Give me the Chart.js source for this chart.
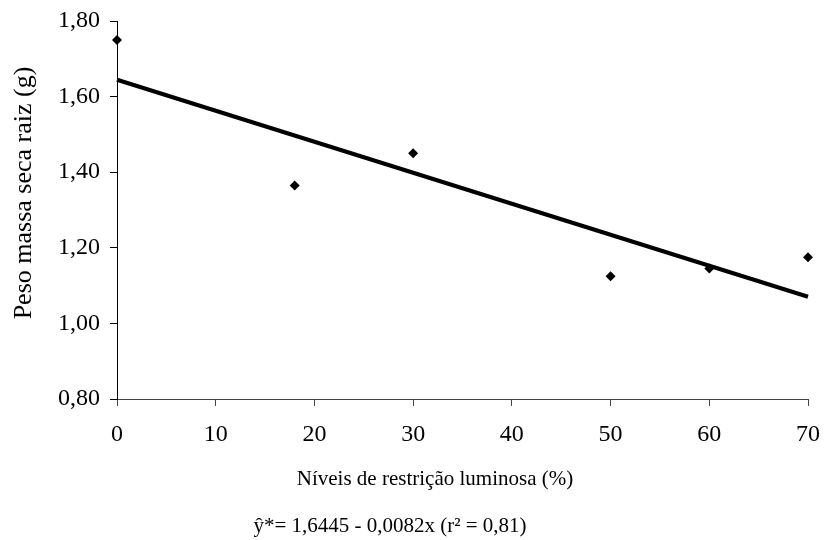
<!DOCTYPE html>
<html>
<head>
<meta charset="utf-8">
<script src="https://cdn.jsdelivr.net/npm/chart.js@4/dist/chart.umd.min.js"></script>
<style>
  html, body { margin: 0; padding: 0; background: #fff; }
  #wrap { width: 829px; height: 540px; }
</style>
</head>
<body>
<div id="wrap"><canvas id="c" width="829" height="540"></canvas></div>
<script>
// Light restriction levels (%) and measured dry root mass (g)
const restricao = [0, 18, 30, 50, 60, 70];
const pesoRaiz = [1.75, 1.365, 1.45, 1.125, 1.145, 1.175];

// Fitted regression ŷ = 1,6445 - 0,0082x, evaluated at the ends of the range
const ajusteX = [0, 70];
const ajusteY = [1.6445, 1.0705];

const xTickLabels = ['0', '10', '20', '30', '40', '50', '60', '70'];
const yTickLabels = ['0,80', '1,00', '1,20', '1,40', '1,60', '1,80'];

const tituloX = 'Níveis de restrição luminosa (%)';
const tituloY = 'Peso massa seca raiz (g)';
const equacao = 'ŷ*= 1,6445 - 0,0082x (r² = 0,81)';

const serif = "'Liberation Serif', 'Times New Roman', serif";

// Axis titles and the regression equation, placed around the plot area
const captionPlugin = {
  id: 'captions',
  afterDraw(chart) {
    const ctx = chart.ctx;
    ctx.save();
    ctx.fillStyle = '#000';
    ctx.textAlign = 'center';
    ctx.textBaseline = 'middle';

    ctx.font = '21px ' + serif;
    ctx.fillText(tituloX, 435, 479);
    ctx.fillText(equacao, 390, 526);

    ctx.translate(24, 193);
    ctx.rotate(-Math.PI / 2);
    ctx.font = '26px ' + serif;
    ctx.fillText(tituloY, 0, 0);
    ctx.restore();
  }
};

new Chart(document.getElementById('c'), {
  type: 'scatter',
  data: {
    datasets: [
      {
        label: 'Peso massa seca raiz',
        data: restricao.map((x, i) => ({ x: x, y: pesoRaiz[i] })),
        pointStyle: 'rectRot',
        pointRadius: 5,
        pointHoverRadius: 5,
        backgroundColor: '#000',
        borderColor: '#000',
        borderWidth: 0,
        showLine: false,
        clip: false
      },
      {
        label: 'Ajuste',
        type: 'line',
        data: ajusteX.map((x, i) => ({ x: x, y: ajusteY[i] })),
        borderColor: '#000',
        borderWidth: 4,
        pointRadius: 0,
        fill: false,
        tension: 0,
        clip: false
      }
    ]
  },
  options: {
    responsive: false,
    animation: false,
    devicePixelRatio: 1,
    layout: { padding: { top: 21, right: 21, left: 0, bottom: 0 } },
    plugins: {
      legend: { display: false },
      tooltip: { enabled: false }
    },
    scales: {
      x: {
        type: 'linear',
        min: 0,
        max: 70,
        afterFit(scale) {
          scale.height = 141;
          scale.paddingLeft = 0;
          scale.paddingRight = 0;
        },
        border: { display: true, color: '#444', width: 1 },
        grid: { drawOnChartArea: false, drawTicks: true, tickLength: 7, tickColor: '#444' },
        ticks: {
          stepSize: 10,
          color: '#000',
          padding: 14,
          font: { family: serif, size: 24 },
          maxRotation: 0,
          callback: (v, i) => xTickLabels[i]
        }
      },
      y: {
        type: 'linear',
        min: 0.8,
        max: 1.8,
        afterFit(scale) {
          scale.width = 117;
          scale.paddingTop = 0;
          scale.paddingBottom = 0;
        },
        border: { display: true, color: '#000', width: 1 },
        grid: { drawOnChartArea: false, drawTicks: true, tickLength: 7, tickColor: '#000' },
        ticks: {
          stepSize: 0.2,
          color: '#000',
          padding: 10,
          font: { family: serif, size: 24 },
          callback: (v, i) => yTickLabels[i]
        }
      }
    }
  },
  plugins: [captionPlugin]
});
</script>
</body>
</html>
